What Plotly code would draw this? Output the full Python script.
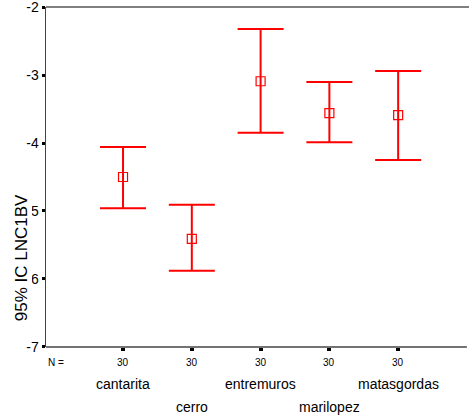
import plotly.graph_objects as go

categories = ["cantarita", "cerro", "entremuros", "marilopez", "matasgordas"]
n_counts = ["30", "30", "30", "30", "30"]
means = [-4.50, -5.41, -3.09, -3.56, -3.59]
upper = [-4.06, -4.91, -2.32, -3.10, -2.94]
lower = [-4.96, -5.88, -3.85, -3.99, -4.25]
y_ticks = [-7, -6, -5, -4, -3, -2]

pos = list(range(len(categories)))
err_plus = [u - m for u, m in zip(upper, means)]
err_minus = [m - l for m, l in zip(means, lower)]

fig = go.Figure()
fig.add_trace(go.Scatter(
    x=pos, y=means, mode="markers",
    marker=dict(symbol="square-open", size=9, color="#ff0000", line=dict(width=1.2, color="#ff3030")),
    error_y=dict(type="data", symmetric=False, array=err_plus, arrayminus=err_minus,
                 color="#ff0000", thickness=2, width=23),
    showlegend=False, hoverinfo="skip",
))

font = "Liberation Sans, Arial, sans-serif"

annotations = []
annotations.append(dict(x=0, y=-0.045, xref="paper", yref="paper", text="N =", showarrow=False,
                        xanchor="left", yanchor="middle", font=dict(family=font, size=10, color="#000")))
for i, (c, n) in enumerate(zip(categories, n_counts)):
    annotations.append(dict(x=i, y=-0.045, xref="x", yref="paper", text=n, showarrow=False,
                            xanchor="center", yanchor="middle", font=dict(family=font, size=10, color="#000")))
    yy = -0.108 if i % 2 == 0 else -0.177
    annotations.append(dict(x=i, y=yy, xref="x", yref="paper", text=c, showarrow=False,
                            xanchor="center", yanchor="middle", font=dict(family=font, size=14, color="#000")))
annotations.append(dict(x=-0.056, y=0.262, xref="paper", yref="paper", text="95% IC LNC1BV", showarrow=False,
                        textangle=-90, xanchor="center", yanchor="middle", bgcolor="white", borderpad=0,
                        font=dict(family=font, size=17, color="#000")))

fig.update_layout(
    width=469, height=418,
    margin=dict(l=46, r=0, t=7, b=71),
    paper_bgcolor="white", plot_bgcolor="white",
    dragmode=False,
    annotations=annotations,
    shapes=[
        dict(type="line", xref="paper", yref="paper", x0=0, x1=1, y0=1, y1=1,
             line=dict(color="#555", width=1.5)),
        dict(type="line", xref="paper", yref="paper", x0=0, x1=0.995, y0=0, y1=0,
             line=dict(color="#444", width=1.5)),
    ],
    xaxis=dict(range=[-1.12, 5.03], tickvals=pos, ticktext=["" for _ in pos],
               showline=False,
               ticks="outside", ticklen=3, tickwidth=4, tickcolor="#000",
               showgrid=False, zeroline=False, fixedrange=True),
    yaxis=dict(range=[-7.003, -1.997], tickvals=y_ticks, ticktext=[str(v) for v in y_ticks],
               showline=True, linecolor="#444", linewidth=1.5, mirror=False,
               ticks="outside", ticklen=3, tickwidth=3, tickcolor="#000",
               ticklabeloverflow="allow",
               tickfont=dict(family=font, size=14, color="#000"),
               showgrid=False, zeroline=False, fixedrange=True),
)

fig.write_html("out.html", config={"staticPlot": True, "displayModeBar": False})
